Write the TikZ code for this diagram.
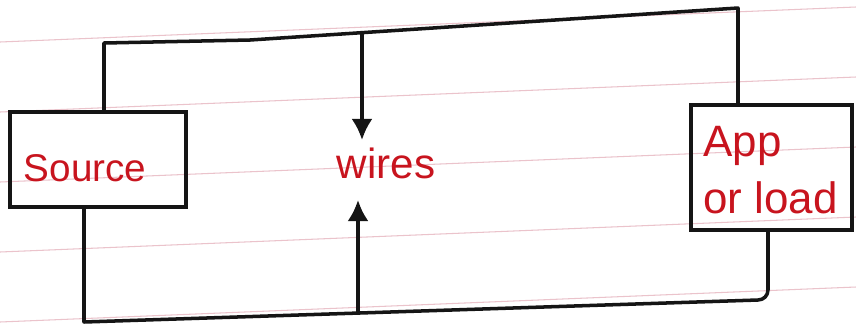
\documentclass[tikz,border=0pt]{standalone}
\usepackage{fontspec}
\setmainfont{Liberation Sans}
\usetikzlibrary{arrows.meta}
\definecolor{ink}{HTML}{151515}
\definecolor{redink}{HTML}{C8141E}
\definecolor{ruling}{HTML}{EBC3CB}
\tikzset{
  boxnode/.style={draw=ink, line width=2pt, rectangle, inner sep=0pt},
  wire/.style={draw=ink, line width=2pt, line join=round, line cap=round},
  wirearrow/.style={wire, -{Latex[length=12pt,width=12pt]}},
  lbl/.style={text=redink, inner sep=0pt},
  rule/.style={draw=ruling, line width=0.6pt}
}
\begin{document}
\begin{tikzpicture}[x=0.02cm,y=-0.02cm]
\useasboundingbox[fill=white] (0,0) rectangle (856,329);
% ruled paper lines
\foreach \yy in {42,112,182,252,322} {
  \draw[rule] (0,\yy) -- (856,\yy-35);
}
% boxes
\node[boxnode, minimum width=3.52cm, minimum height=1.9cm] (src) at (98,159.5) {};
\node[boxnode, minimum width=3.22cm, minimum height=2.5cm] (app) at (771.5,167.5) {};
% labels
\node[lbl, font=\fontsize{22}{24}\selectfont] (srctxt) at (85,168) {Source};
\node[lbl, font=\fontsize{24}{26}\selectfont] (wires) at (386,163) {wires};
\node[lbl, font=\fontsize{25}{32}\selectfont, align=left, anchor=west] (apptxt) at (703,170) {App\\ or load};
% wire corners
\coordinate (t1) at (104,43);
\coordinate (t0) at (250,40);
\coordinate (t2) at (738,8);
\coordinate (b1) at (84,322);
\coordinate (b2) at (758,300);
\coordinate (b3) at (768,290);
\coordinate (ta) at (362,32.7);
\coordinate (ba) at (358,313.2);
% wires
\draw[wire] (src.north -| t1) -- (t1) -- (t0) -- (t2) -- (app.north -| t2);
\draw[wire] (src.south -| b1) -- (b1) -- (b2) to[out=0,in=-90] (b3) -- (app.south -| b3);
% arrows
\draw[wirearrow] (ta) -- (362,140);
\draw[wirearrow] (ba) -- (358,200);
\end{tikzpicture}
\end{document}
